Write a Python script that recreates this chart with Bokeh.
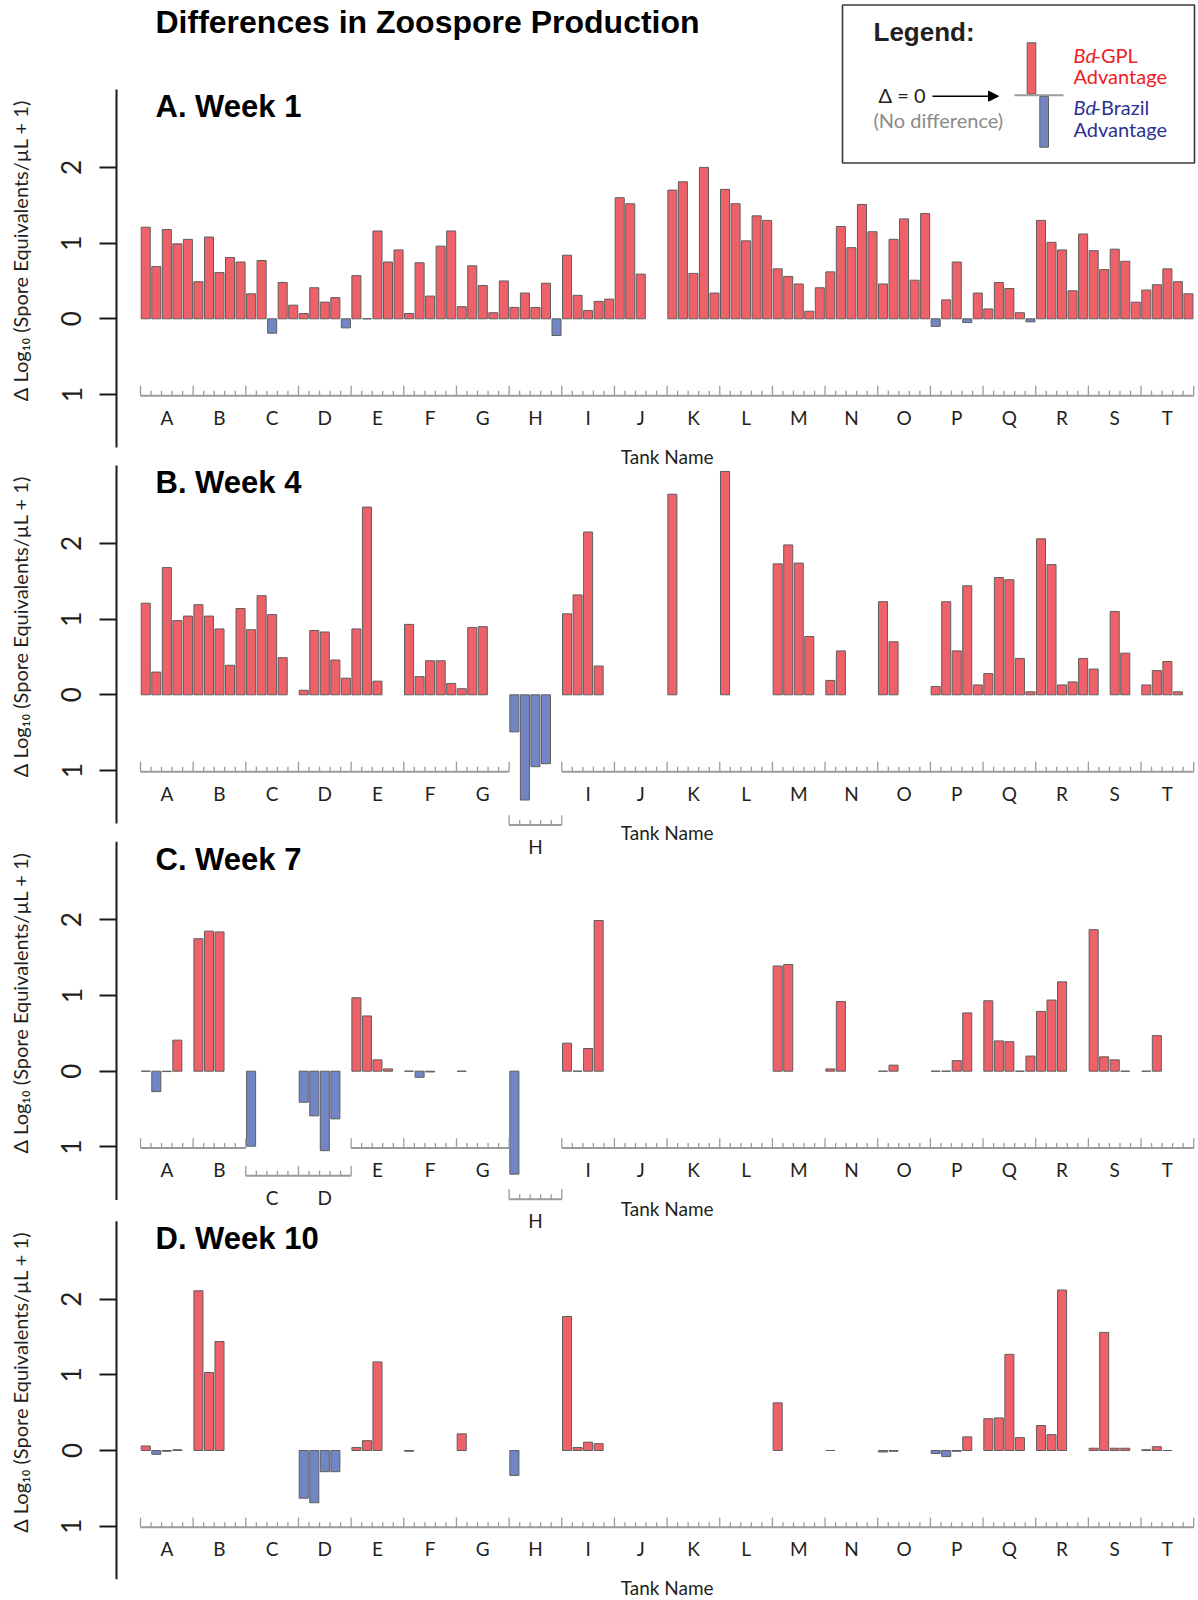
import math
from bokeh.plotting import figure
from bokeh.layouts import column, row
from bokeh.models import Range1d, FixedTicker, ColumnDataSource, Arrow, NormalHead
from bokeh.core.properties import value
from bokeh.embed import file_html
from bokeh.resources import INLINE

# ---------------------------------------------------------------------------
# Data: difference in log10(spore equivalents/uL + 1), GPL minus Brazil,
# five replicate bars per tank; None = no measurement.
# ---------------------------------------------------------------------------
TANKS = list("ABCDEFGHIJKLMNOPQRST")
N = None

week1 = [
    [1.21, 0.69, 1.18, 0.99, 1.05],   # A
    [0.49, 1.08, 0.61, 0.81, 0.75],   # B
    [0.33, 0.77, -0.19, 0.48, 0.18],  # C
    [0.07, 0.41, 0.22, 0.28, -0.12],  # D
    [0.57, 0.00, 1.16, 0.75, 0.91],   # E
    [0.07, 0.74, 0.30, 0.96, 1.16],   # F
    [0.16, 0.70, 0.44, 0.08, 0.50],   # G
    [0.15, 0.34, 0.15, 0.47, -0.22],  # H
    [0.84, 0.31, 0.11, 0.23, 0.26],   # I
    [1.60, 1.52, 0.59, N, N],         # J
    [1.70, 1.81, 0.60, 2.00, 0.34],   # K
    [1.71, 1.52, 1.03, 1.36, 1.30],   # L
    [0.66, 0.56, 0.46, 0.10, 0.41],   # M
    [0.62, 1.22, 0.94, 1.51, 1.15],   # N
    [0.46, 1.05, 1.32, 0.51, 1.39],   # O
    [-0.10, 0.25, 0.75, -0.05, 0.34], # P
    [0.13, 0.48, 0.40, 0.08, -0.04],  # Q
    [1.30, 1.01, 0.91, 0.37, 1.12],   # R
    [0.90, 0.65, 0.92, 0.76, 0.22],   # S
    [0.38, 0.45, 0.66, 0.49, 0.33],   # T
]

week4 = [
    [1.21, 0.30, 1.68, 0.98, 1.04],   # A
    [1.19, 1.04, 0.87, 0.39, 1.14],   # B
    [0.86, 1.31, 1.06, 0.49, N],      # C
    [0.06, 0.85, 0.83, 0.46, 0.22],   # D
    [0.87, 2.48, 0.18, N, N],         # E
    [0.93, 0.24, 0.45, 0.45, 0.15],   # F
    [0.08, 0.89, 0.90, N, N],         # G
    [-0.49, -1.39, -0.95, -0.91, N],  # H
    [1.07, 1.32, 2.15, 0.38, N],      # I
    [N, N, N, N, N],                  # J
    [2.65, N, N, N, N],               # K
    [2.95, N, N, N, N],               # L
    [1.73, 1.98, 1.74, 0.77, N],      # M
    [0.19, 0.58, N, N, N],            # N
    [1.23, 0.70, N, N, N],            # O
    [0.11, 1.23, 0.58, 1.44, 0.13],   # P
    [0.28, 1.55, 1.52, 0.48, 0.04],   # Q
    [2.06, 1.72, 0.13, 0.17, 0.48],   # R
    [0.34, N, 1.10, 0.55, N],         # S
    [0.13, 0.32, 0.44, 0.04, N],      # T
]

week7 = [
    [0.00, -0.27, -0.005, 0.41, N],   # A
    [1.75, 1.85, 1.84, N, N],         # B
    [-0.99, N, N, N, N],              # C
    [-0.41, -0.59, -1.05, -0.63, N],  # D
    [0.97, 0.73, 0.15, 0.03, N],      # E
    [0.00, -0.08, -0.01, N, N],       # F
    [0.00, N, N, N, N],               # G
    [-1.36, N, N, N, N],              # H
    [0.37, 0.00, 0.30, 1.99, N],      # I
    [N, N, N, N, N],                  # J
    [N, N, N, N, N],                  # K
    [N, N, N, N, N],                  # L
    [1.39, 1.41, N, N, N],            # M
    [0.03, 0.92, N, N, N],            # N
    [0.00, 0.08, N, N, N],            # O
    [0.00, 0.00, 0.14, 0.77, N],      # P
    [0.93, 0.40, 0.39, 0.00, 0.20],   # Q
    [0.79, 0.94, 1.18, N, N],         # R
    [1.87, 0.19, 0.15, 0.00, N],      # S
    [0.00, 0.47, N, N, N],            # T
]

week10 = [
    [0.06, -0.05, -0.01, 0.01, N],    # A
    [2.11, 1.03, 1.44, N, N],         # B
    [N, N, N, N, N],                  # C
    [-0.63, -0.69, -0.28, -0.28, N],  # D
    [0.04, 0.13, 1.17, N, N],         # E
    [-0.01, N, N, N, N],              # F
    [0.22, N, N, N, N],               # G
    [-0.33, N, N, N, N],              # H
    [1.77, 0.04, 0.11, 0.09, N],      # I
    [N, N, N, N, N],                  # J
    [N, N, N, N, N],                  # K
    [N, N, N, N, N],                  # L
    [0.63, N, N, N, N],               # M
    [0.00, N, N, N, N],               # N
    [-0.02, -0.01, N, N, N],          # O
    [-0.04, -0.08, -0.01, 0.18, N],   # P
    [0.42, 0.43, 1.27, 0.17, N],      # Q
    [0.33, 0.21, 2.12, N, N],         # R
    [0.03, 1.56, 0.03, 0.03, N],      # S
    [0.01, 0.05, 0.00, N, N],         # T
]

PANEL_TITLES = ["A. Week 1", "B. Week 4", "C. Week 7", "D. Week 10"]
PANEL_DATA = [week1, week4, week7, week10]
Y_TICKS = [-1, 0, 1, 2]
Y_TICK_TEXT = {-1: "1", 0: "0", 1: "1", 2: "2"}
Y_TITLE = "\u0394 Log\u2081\u2080 (Spore Equivalents/\u00b5L + 1)"

# ---------------------------------------------------------------------------
# Layout / style
# ---------------------------------------------------------------------------
PAGE_W = 1198
GUTTER_W = 40             # strip on the far left that carries the y-axis title
FRAME_LEFT = 114          # page x where the plotting frame begins
AXIS_X0_PX = 140          # page x of the first tank boundary
PX_PER_BAR = 10.532
PX_PER_UNIT = 75.7
BARS_PER_TANK = 5

X_START = -(AXIS_X0_PX - FRAME_LEFT) / PX_PER_BAR
X_END = X_START + (PAGE_W - FRAME_LEFT) / PX_PER_BAR

# (zero line, figure top, figure bottom) in page pixels for each panel
PANEL_BOXES = [(318.3, 0, 468), (694.3, 455, 866), (1070.7, 836, 1240), (1450.0, 1212, 1600)]

Y_LINE = (-1.70, 3.03)     # extent of the drawn y-axis line
Y_TITLE_AT = 0.9           # centre of the y-axis title, in data units
NORMAL_LEVEL = -1.015      # tank axis position
DROP = 0.33                # spacing below the lowest bar for a lowered tank axis
MAJOR_T, MINOR_T = 0.13, 0.066

RED = "#EF6169"
BLUE = "#7285C4"
EDGE = "#5e5e5e"
AXIS_GREY = "#9b9b9b"
INK = "#231f20"
SANS = "Lato"
BOLD = "Liberation Sans"

BASE = dict(output_backend="svg", toolbar_location=None, title=None,
            min_border_right=0, min_border_top=0, min_border_bottom=0,
            background_fill_color=None, border_fill_color=None, outline_line_color=None)


def axis_levels(data):
    lv = []
    for g in data:
        vals = [v for v in g if v is not None]
        m = min(vals) if vals else 0.0
        lv.append(m - DROP if m - DROP < NORMAL_LEVEL - 0.05 else NORMAL_LEVEL)
    i = 0
    while i < len(lv):
        if lv[i] < NORMAL_LEVEL:
            j = i
            while j + 1 < len(lv) and lv[j + 1] < NORMAL_LEVEL:
                j += 1
            m = min(lv[i:j + 1])
            for k in range(i, j + 1):
                lv[k] = m
            i = j + 1
        else:
            i += 1
    return lv


def make_gutter(idx):
    zero_px, top_px, bottom_px = PANEL_BOXES[idx]
    g = figure(width=GUTTER_W, height=bottom_px - top_px, x_range=Range1d(0, GUTTER_W),
               y_range=Range1d(bottom_px, top_px), x_axis_location=None,
               y_axis_location=None, min_border_left=0, **BASE)
    g.grid.visible = False
    g.text(x=[19.5], y=[zero_px - Y_TITLE_AT * PX_PER_UNIT], text=[Y_TITLE],
           angle=math.pi / 2, text_align="center", text_baseline="middle",
           text_font=value(SANS), text_font_size="20px", text_color=INK)
    return g


def make_panel(idx):
    data = PANEL_DATA[idx]
    zero_px, top_px, bottom_px = PANEL_BOXES[idx]
    h = bottom_px - top_px
    y0 = -(bottom_px - zero_px) / PX_PER_UNIT
    y1 = (zero_px - top_px) / PX_PER_UNIT

    p = figure(width=PAGE_W - GUTTER_W, height=h, x_range=Range1d(X_START, X_END),
               y_range=Range1d(y0, y1), x_axis_location=None,
               min_border_left=FRAME_LEFT - GUTTER_W, **BASE)
    p.extra_x_ranges = {"px": Range1d(FRAME_LEFT, PAGE_W)}
    p.extra_y_ranges = {"px": Range1d(bottom_px, top_px)}
    p.grid.visible = False

    ax = p.yaxis[0]
    ax.ticker = FixedTicker(ticks=Y_TICKS)
    ax.major_label_overrides = Y_TICK_TEXT
    ax.axis_line_color = None
    ax.minor_tick_line_color = None
    ax.major_tick_out = 15
    ax.major_tick_in = 2
    ax.major_tick_line_width = 2
    ax.major_tick_line_color = "#1a1a1a"
    ax.major_label_orientation = "vertical"
    ax.major_label_text_font = SANS
    ax.major_label_text_font_size = "26px"
    ax.major_label_text_color = INK
    ax.major_label_standoff = 18

    # y-axis line
    p.segment(x0=[116], y0=[Y_LINE[0]], x1=[116], y1=[Y_LINE[1]], x_range_name="px",
              line_color="#1a1a1a", line_width=2)

    # bars
    xs, tops, cols = [], [], []
    for g, vals in enumerate(data):
        for k, v in enumerate(vals):
            if v is None:
                continue
            xs.append(g * BARS_PER_TANK + k + 0.5)
            tops.append(v)
            cols.append(RED if v >= 0 else BLUE)
    src = ColumnDataSource(dict(x=xs, top=tops, color=cols))
    p.vbar(x="x", top="top", bottom=0, width=0.86, source=src, fill_color="color",
           line_color=EDGE, line_width=1)

    # tank axis, broken where a tank needs to sit lower
    lv = axis_levels(data)
    hx0, hx1, hy = [], [], []
    tx, ty0, ty1 = [], [], []
    g = 0
    while g < len(lv):
        e = g
        while e + 1 < len(lv) and lv[e + 1] == lv[g]:
            e += 1
        L = lv[g]
        hx0.append(g * BARS_PER_TANK)
        hx1.append((e + 1) * BARS_PER_TANK)
        hy.append(L)
        for t in range(g * BARS_PER_TANK, (e + 1) * BARS_PER_TANK + 1):
            tx.append(t)
            ty0.append(L)
            ty1.append(L + (MAJOR_T if t % BARS_PER_TANK == 0 else MINOR_T))
        g = e + 1
    p.segment(x0=hx0, y0=hy, x1=hx1, y1=hy, line_color=AXIS_GREY, line_width=2)
    p.segment(x0=tx, y0=ty0, x1=tx, y1=ty1, line_color=AXIS_GREY, line_width=1.3)

    lab = ColumnDataSource(dict(x=[g * BARS_PER_TANK + 2.5 for g in range(len(TANKS))],
                                y=[L - 0.286 for L in lv], t=TANKS))
    p.text(x="x", y="y", text="t", source=lab, text_align="center", text_baseline="middle",
           text_font=value(SANS), text_font_size="19px", text_color=INK)
    p.text(x=[len(TANKS) * BARS_PER_TANK / 2], y=[NORMAL_LEVEL - 0.80], text=["Tank Name"],
           text_align="center", text_baseline="middle", text_font=value(SANS),
           text_font_size="19px", text_color=INK)

    # panel title
    p.text(x=[155], y=[2.8], text=[PANEL_TITLES[idx]], x_range_name="px",
           text_align="left", text_baseline="middle", text_font=value(BOLD),
           text_font_style="bold", text_font_size="31px", text_color="black")
    return p


panels = [make_panel(i) for i in range(4)]
gutters = [make_gutter(i) for i in range(4)]

# main title and key, drawn in page pixels on the first panel
pa = panels[0]
PX = dict(x_range_name="px", y_range_name="px")
pa.text(x=[155], y=[21], text=["Differences in Zoospore Production"], text_align="left",
        text_baseline="middle", text_font=value(BOLD), text_font_style="bold",
        text_font_size="32px", text_color="black", **PX)

pa.quad(left=[842], right=[1194], top=[4.5], bottom=[162.5], fill_color=None,
        line_color="#3a3a3a", line_width=1.6, **PX)
pa.text(x=[873], y=[31], text=["Legend:"], text_align="left", text_baseline="middle",
        text_font=value(BOLD), text_font_style="bold", text_font_size="26px",
        text_color="#231f20", **PX)
pa.quad(left=[1026.7], right=[1035.3], top=[42.3], bottom=[93.5], fill_color=RED,
        line_color=EDGE, line_width=1, **PX)
pa.quad(left=[1039.3], right=[1048], top=[96], bottom=[146.7], fill_color=BLUE,
        line_color=EDGE, line_width=1, **PX)
pa.segment(x0=[1014], y0=[94.7], x1=[1063], y1=[94.7], line_color=AXIS_GREY, line_width=2, **PX)

KEY_RED = "#ED1C24"
KEY_BLUE = "#2E3192"
for txt, x, y, col, style in [
    ("Bd", 1073, 54, KEY_RED, "italic"), ("-GPL", 1093, 54, KEY_RED, "normal"),
    ("Advantage", 1073, 75.5, KEY_RED, "normal"),
    ("Bd", 1073, 106.5, KEY_BLUE, "italic"), ("-Brazil", 1093, 106.5, KEY_BLUE, "normal"),
    ("Advantage", 1073, 128, KEY_BLUE, "normal"),
    ("\u0394 = 0", 878, 94, "#231f20", "normal"),
    ("(No difference)", 873, 119, "#8a8a8a", "normal"),
]:
    pa.text(x=[x], y=[y], text=[txt], text_align="left", text_baseline="middle",
            text_font=value(SANS), text_font_style=style, text_font_size="20px",
            text_color=col, **PX)

pa.add_layout(Arrow(end=NormalHead(size=10, fill_color="black", line_color="black"),
                    x_start=932, y_start=95.7, x_end=998, y_end=95.7,
                    line_color="black", line_width=1.5, **PX))

rows = []
for i in range(4):
    mt = 0 if i == 0 else PANEL_BOXES[i][1] - PANEL_BOXES[i - 1][2]
    rows.append(row(gutters[i], panels[i], margin=(mt, 0, 0, 0)))

layout = column(*rows)
open("out.html", "w").write(file_html(layout, INLINE))
